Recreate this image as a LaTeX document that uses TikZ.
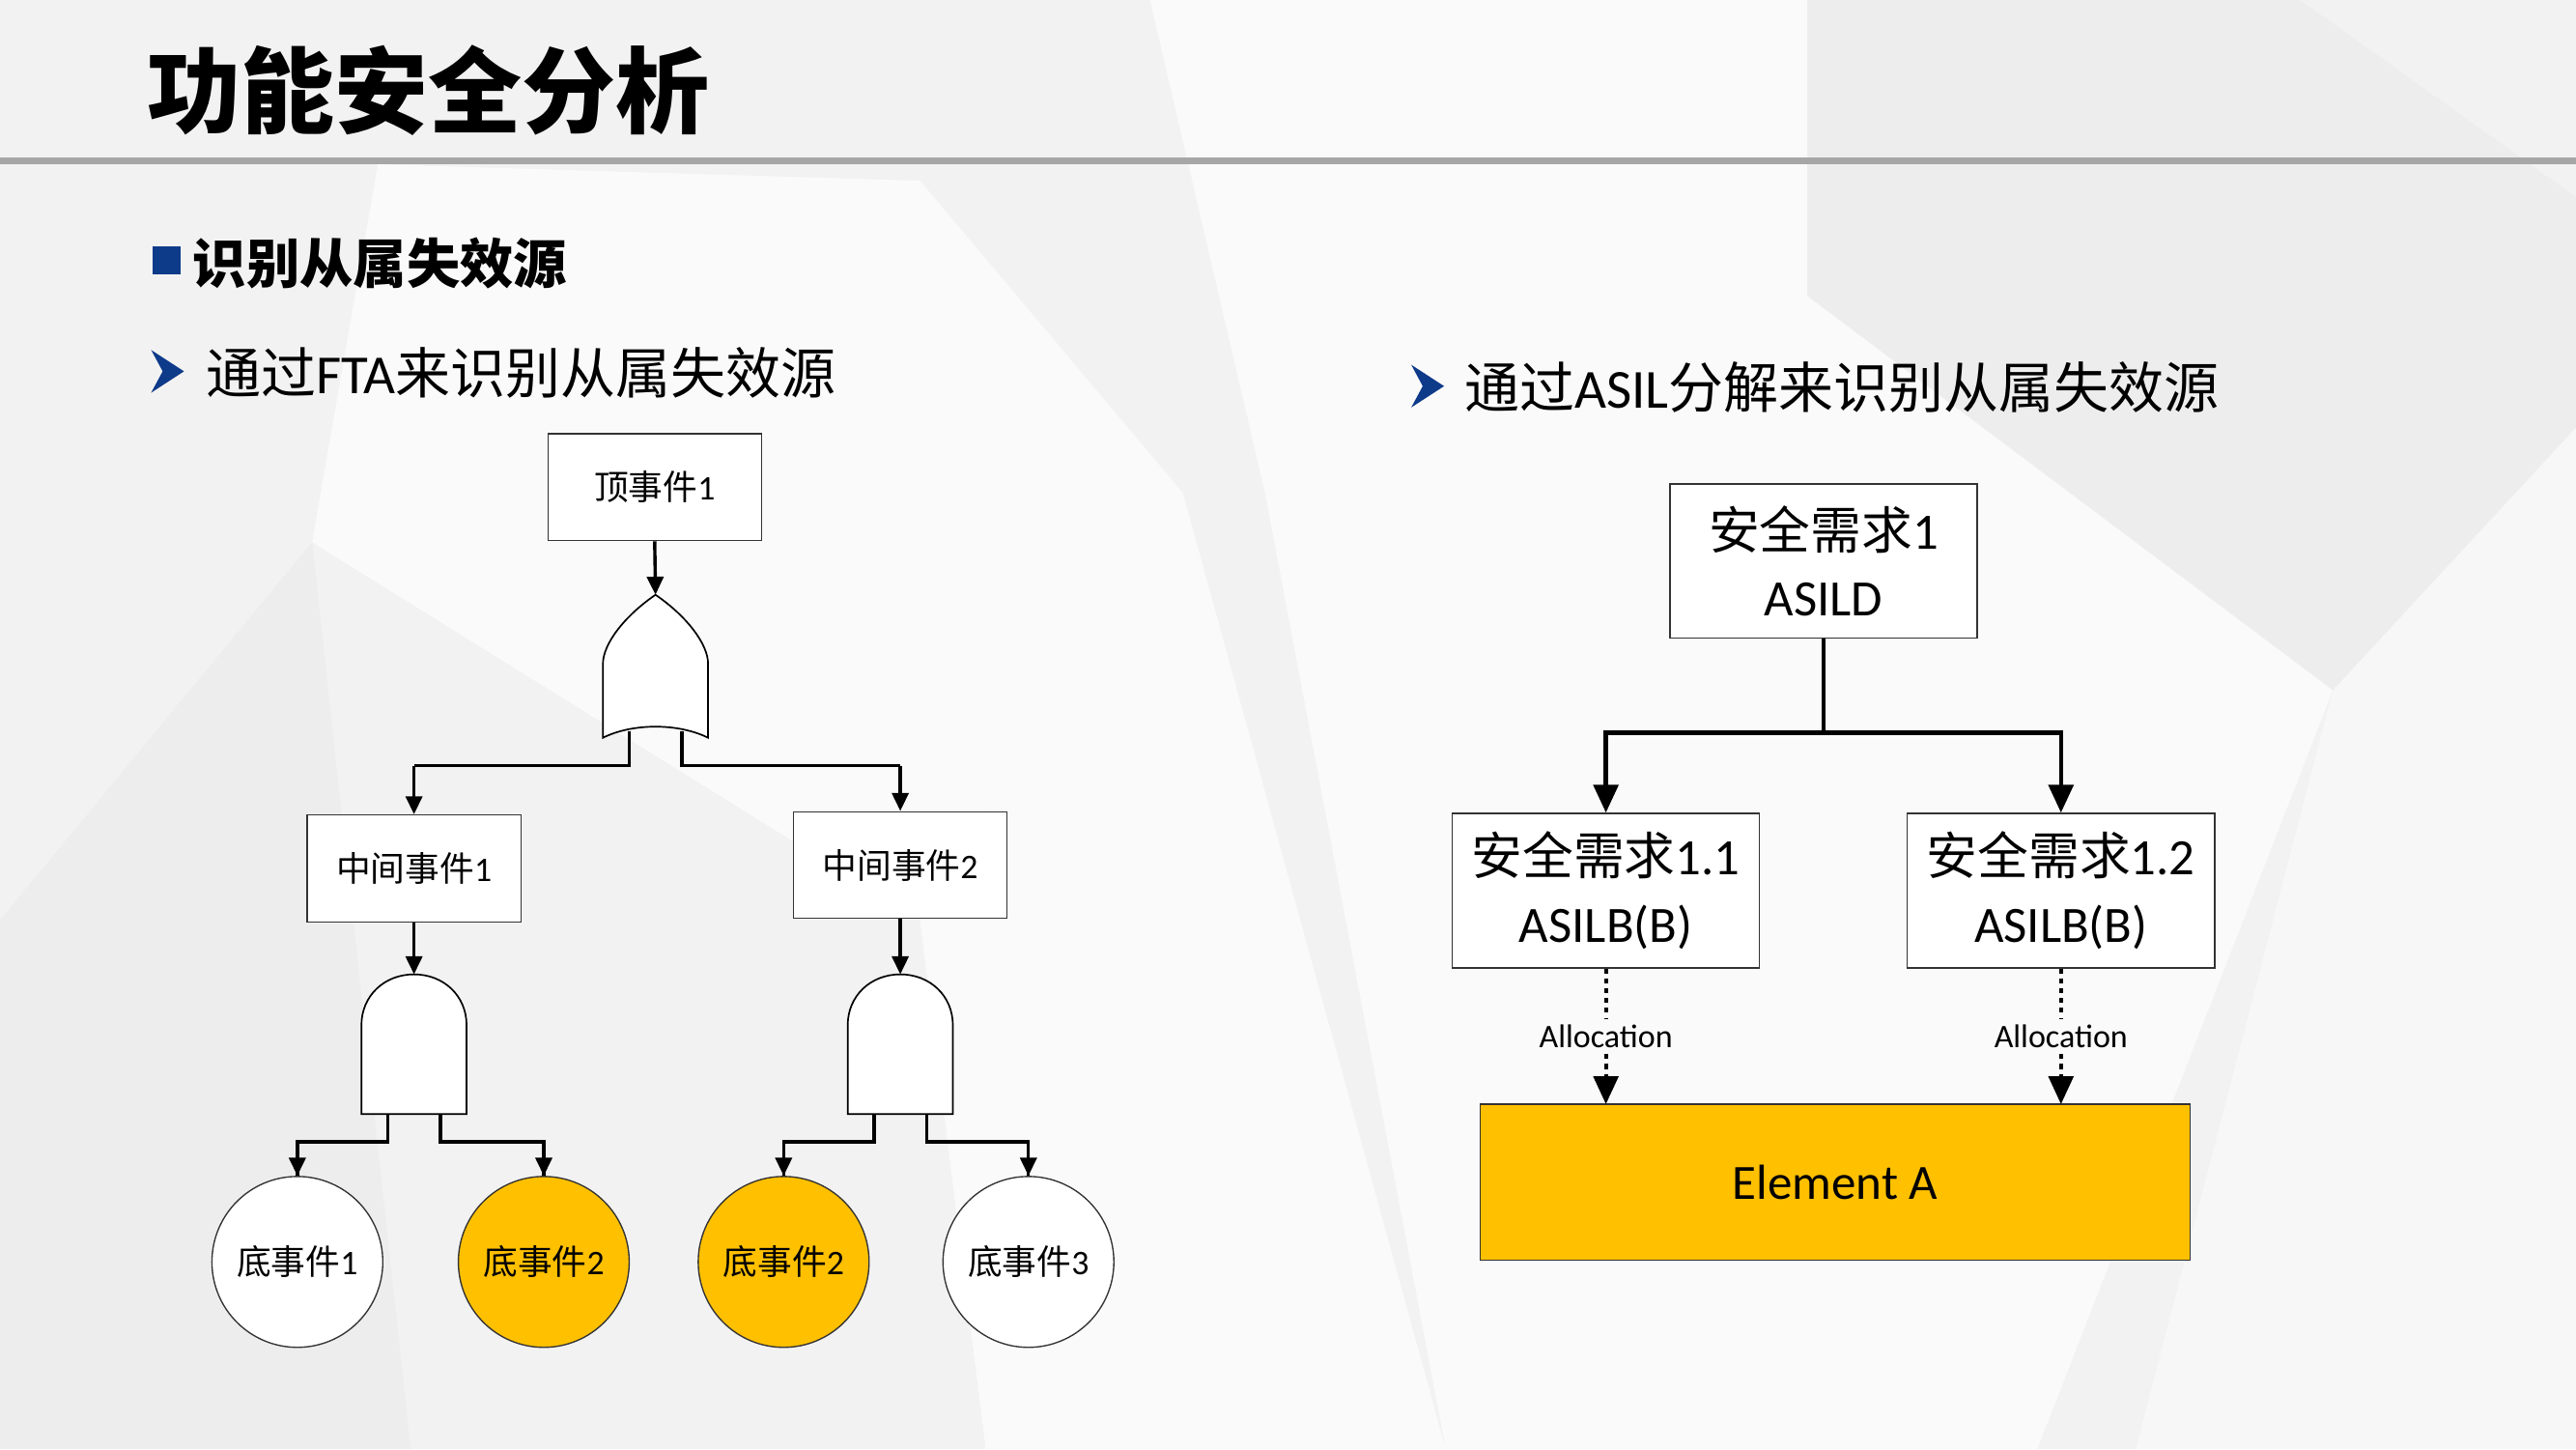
\documentclass[tikz,border=0pt]{standalone}
\usepackage{fontspec}
\setmainfont{Carlito}
\newfontfamily\zh{Noto Sans CJK SC}
\usetikzlibrary{arrows.meta,shapes.geometric}
\definecolor{gold}{HTML}{FFC000}
\definecolor{navy}{HTML}{0E3A8A}
\begin{document}
\begin{tikzpicture}[x=1pt,y=-1pt,
  box/.style={draw=black!80,line width=0.8pt,fill=white,minimum width=#1,inner sep=0pt,align=center},
  ev/.style={box=130pt,minimum height=65pt,font=\fontsize{21}{24}\selectfont},
  req/.style={box=187pt,minimum height=94pt,font=\fontsize{31}{41}\selectfont},
  bas/.style={circle,draw=black!80,line width=0.8pt,minimum size=104pt,inner sep=0pt,font=\fontsize{21}{24}\selectfont},
  gate/.style={draw=black,line width=1pt,fill=white},
  con/.style={line width=2pt,-{Triangle[width=10pt,length=11pt]}},
  conb/.style={line width=2.6pt,-{Triangle[width=15pt,length=17pt]}},
  dots/.style={line width=2.4pt,dash pattern=on 3pt off 3pt},
  bul/.style={fill=navy}]
\useasboundingbox (0,0) rectangle (1568,882);
% background
\fill[black!5] (0,0) rectangle (1568,882);
\fill[black!2] (230,100) -- (560,110) -- (720,300) -- (560,560) -- (190,330) -- cycle;
\fill[black!2] (770,300) -- (1100,180) -- (1420,420) -- (1240,882) -- (880,882) -- cycle;
\fill[black!7] (0,560) -- (190,330) -- (250,882) -- (0,882) -- cycle;
\fill[black!3] (1420,420) -- (1568,260) -- (1568,882) -- (1300,882) -- cycle;
\fill[black!7] (1100,0) -- (1400,0) -- (1568,120) -- (1568,260) -- (1420,420) -- (1100,180) -- cycle;
\fill[black!2] (560,560) -- (720,300) -- (880,882) -- (600,882) -- cycle;
\fill[black!2] (700,0) -- (1100,0) -- (1100,180) -- (770,300) -- cycle;
% title
\node[font=\zh\bfseries\fontsize{57}{60}\selectfont,anchor=west] (title) at (86,55) {功能安全分析};
\draw[black!35,line width=4pt] (0,98) -- (1568,98);
\fill[navy] (93,150) rectangle (110,167);
\node[font=\zh\bfseries\fontsize{32.5}{36}\selectfont,anchor=west] (sub) at (114,160) {识别从属失效源};
% bullets
\fill[bul] (92,213) -- (112,226) -- (92,239) -- (99,226) -- cycle;
\node[font=\fontsize{33.5}{36}\selectfont,anchor=west] (l1) at (122,227) {{\zh 通过}FTA{\zh 来识别从属失效源}};
\fill[bul] (859,222) -- (879,235) -- (859,248) -- (866,235) -- cycle;
\node[font=\fontsize{33.5}{36}\selectfont,anchor=west] (l2) at (888,236) {{\zh 通过}ASIL{\zh 分解来识别从属失效源}};
% FTA
\node[ev] (top) at (398.5,296.5) {{\zh 顶事件}1};
\node[ev] (m1) at (252,528.5) {{\zh 中间事件}1};
\node[ev] (m2) at (548,526.5) {{\zh 中间事件}2};
\node[bas,fill=white] (b1) at (181,768) {{\zh 底事件}1};
\node[bas,fill=gold] (b2) at (331,768) {{\zh 底事件}2};
\node[bas,fill=gold] (b3) at (477,768) {{\zh 底事件}2};
\node[bas,fill=white] (b4) at (626,768) {{\zh 底事件}3};
% OR gate
\coordinate (or) at (399,362);
\draw[line width=2pt] (383,445) -- (383,466) -- (252,466);
\draw[line width=2pt] (415,445) -- (415,466) -- (548,466);
\draw[gate] (399,362) .. controls (380,375) and (367,392) .. (367,404) -- (367,449)
  .. controls (385,440) and (413,440) .. (431,449) -- (431,404)
  .. controls (431,392) and (418,375) .. (399,362);
\draw[con] (top.south) -- (or);
\draw[con] (252,466) -- (m1.north);
\draw[con] (548,466) -- (m2.north);
% AND gates
\coordinate (and1) at (252,593);
\coordinate (and2) at (548,593);
\foreach \g/\cx/\l/\r in {and1/252/b1/b2,and2/548/b3/b4}{
  \draw[line width=2pt] (\cx-16,678) -- (\cx-16,695) -| (\l.north);
  \draw[line width=2pt] (\cx+16,678) -- (\cx+16,695) -| (\r.north);
  \draw[gate] (\cx-32,678) -- (\cx-32,624) .. controls (\cx-32,606) and (\cx-18,593) .. (\cx,593)
    .. controls (\cx+18,593) and (\cx+32,606) .. (\cx+32,624) -- (\cx+32,678) -- cycle;
}
\draw[con] (m1.south) -- (and1);
\draw[con] (m2.south) -- (and2);
\draw[con] (181,695) -- (b1.north);
\draw[con] (331,695) -- (b2.north);
\draw[con] (477,695) -- (b3.north);
\draw[con] (626,695) -- (b4.north);
% ASIL
\node[req] (r1) at (1110,341.5) {{\zh 安全需求}1\\ASILD};
\node[req] (r11) at (977.5,542) {{\zh 安全需求}1.1\\ASILB(B)};
\node[req] (r12) at (1254.5,542) {{\zh 安全需求}1.2\\ASILB(B)};
\node[box=432pt,minimum height=95pt,fill=gold,font=\fontsize{30}{34}\selectfont] (ea) at (1117,719.5) {Element A};
\coordinate (j) at (1110,446);
\draw[line width=2.6pt] (r1.south) -- (j);
\draw[conb] (j) -| (r11.north);
\draw[conb] (j) -| (r12.north);
\foreach \n/\x in {r11/977.5,r12/1254.5}{
  \node[font=\fontsize{20}{22}\selectfont] (al\n) at (\x,631) {Allocation};
  \draw[dots] (\n.south) -- (al\n.north);
  \draw[dots,-{Triangle[width=15pt,length=17pt]}] (al\n.south) -- (\x,672);
}
\end{tikzpicture}
\end{document}
